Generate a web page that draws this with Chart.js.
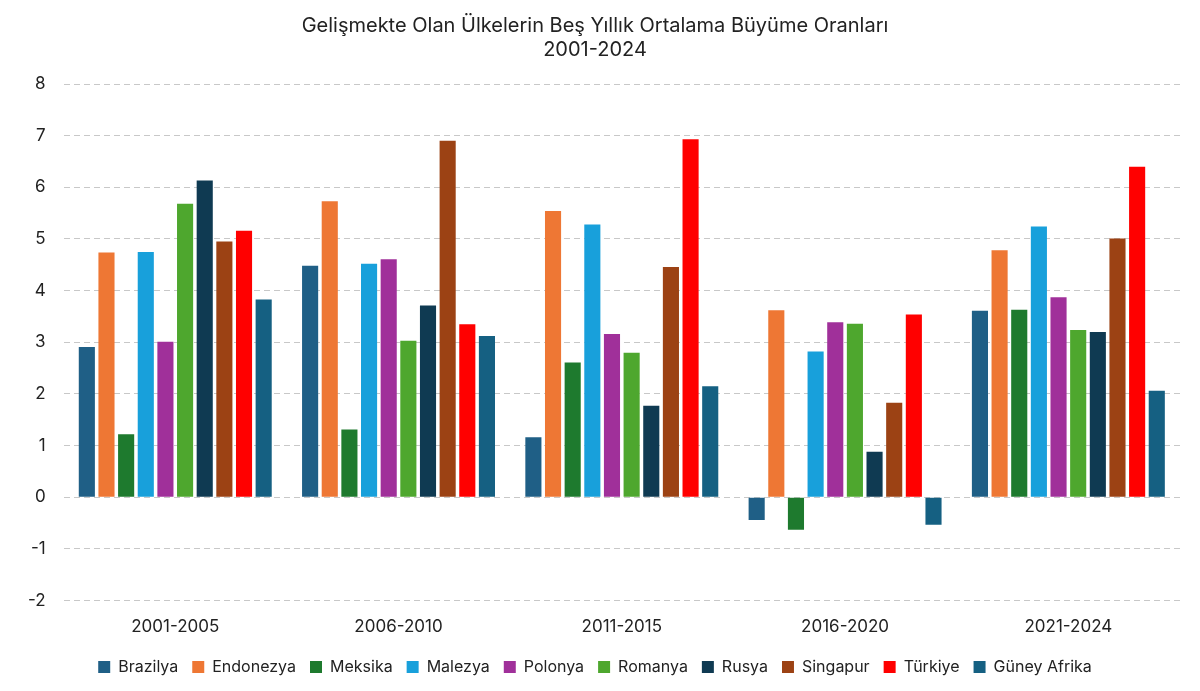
<!DOCTYPE html>
<html>
<head>
<meta charset="utf-8">
<script src="https://cdn.jsdelivr.net/npm/chart.js@4/dist/chart.umd.min.js"></script>
<style>
  html, body { margin: 0; padding: 0; background: #fff; }
  #wrap { width: 1200px; height: 691px; }
</style>
</head>
<body>
<div id="wrap"><canvas id="c"></canvas></div>
<script>
const periods = ['2001-2005', '2006-2010', '2011-2015', '2016-2020', '2021-2024'];
const countries = ['Brazilya', 'Endonezya', 'Meksika', 'Malezya', 'Polonya', 'Romanya', 'Rusya', 'Singapur', 'Türkiye', 'Güney Afrika'];
const colors = ['#1f5f86', '#ee7734', '#1e7a2e', '#18a0db', '#a0309a', '#4ea72e', '#0f3a52', '#9c4214', '#ff0000', '#156082'];

const brazilya = [2.91, 4.48, 1.16, -0.44, 3.61];
const endonezya = [4.74, 5.73, 5.54, 3.62, 4.78];
const meksika = [1.22, 1.31, 2.61, -0.63, 3.63];
const malezya = [4.75, 4.52, 5.28, 2.82, 5.24];
const polonya = [3.01, 4.61, 3.16, 3.39, 3.87];
const romanya = [5.68, 3.03, 2.80, 3.36, 3.24];
const rusya = [6.13, 3.71, 1.77, 0.88, 3.20];
const singapur = [4.95, 6.90, 4.46, 1.83, 5.01];
const turkiye = [5.16, 3.35, 6.93, 3.54, 6.40];
const guneyAfrika = [3.83, 3.12, 2.15, -0.53, 2.06];

const series = [brazilya, endonezya, meksika, malezya, polonya, romanya, rusya, singapur, turkiye, guneyAfrika];

new Chart(document.getElementById('c'), {
    type: 'bar',
    data: {
        labels: periods,
        datasets: series.map((d, i) => ({
            label: countries[i],
            data: d,
            backgroundColor: colors[i],
            barPercentage: 0.82,
            categoryPercentage: 0.88
        }))
    },
    options: {
        responsive: true, maintainAspectRatio: false, animation: false,
        layout: { padding: { left: 10, right: 20, top: 10, bottom: 6 } },
        scales: {
            y: {
                min: -2, max: 8,
                ticks: { stepSize: 1, color: '#222', font: { family: 'Inter, Roboto, sans-serif', size: 17 }, padding: 18 },
                grid: { color: '#c8c8c8', drawTicks: false },
                border: { display: false, dash: [6, 4] }
            },
            x: {
                ticks: { color: '#222', font: { family: 'Inter, Roboto, sans-serif', size: 17 }, padding: 8 },
                grid: { display: false },
                border: { display: false }
            }
        },
        plugins: {
            title: {
                display: true,
                text: ['Gelişmekte Olan Ülkelerin Beş Yıllık Ortalama Büyüme Oranları', '2001-2024'],
                color: '#222',
                font: { family: 'Inter, Roboto, sans-serif', size: 20, weight: 'normal' },
                padding: { top: 4, bottom: 22 }
            },
            legend: {
                position: 'bottom',
                labels: { color: '#222', boxWidth: 12, boxHeight: 12, padding: 14, font: { family: 'Inter, Roboto, sans-serif', size: 16 } }
            },
            tooltip: { enabled: false }
        }
    }
});
</script>
</body>
</html>
